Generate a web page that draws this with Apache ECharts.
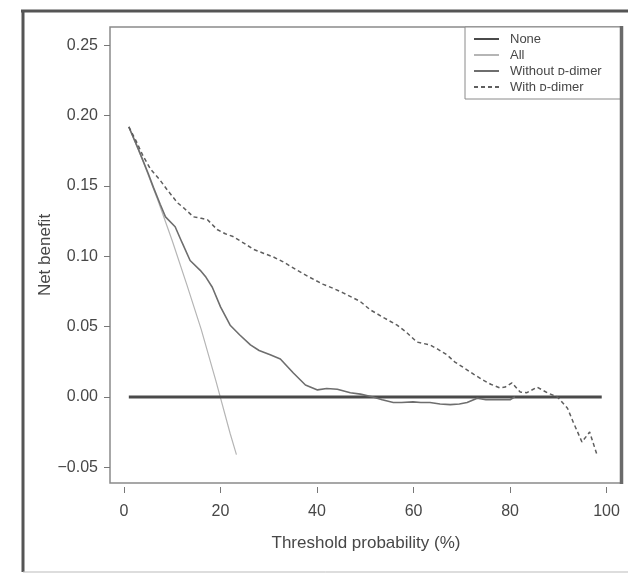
<!DOCTYPE html>
<html>
<head>
<meta charset="utf-8">
<script src="https://cdn.jsdelivr.net/npm/echarts@6/dist/echarts.min.js"></script>
<style>
html,body{margin:0;padding:0;background:#fff;}
#chart{width:628px;height:573px;}
</style>
</head>
<body>
<div id="chart"></div>
<script>
// ---- data ----
var seriesNames = ['None', 'All', 'Without \u1D05-dimer', 'With \u1D05-dimer'];
var xTicks = [0, 20, 40, 60, 80, 100];
var yTicks = [-0.05, 0, 0.05, 0.10, 0.15, 0.20, 0.25];

var noneX = [1, 99];
var noneY = [0, 0];

var allX = [1, 4, 7, 10, 13, 16, 19, 22, 23.3];
var allY = [0.192, 0.167, 0.140, 0.111, 0.080, 0.048, 0.012, -0.026, -0.041];

var withoutX = [1, 3, 5, 6.1, 7.5, 8.6, 10.6, 12, 13.7, 15.8, 17, 18.3, 20, 22, 24, 26.2, 28, 30.3, 32.4, 35.1, 37.6, 40.1, 42, 44.2, 46.9, 49, 51.6, 53.5, 55.8, 57.5, 59.9, 61.5, 63.4, 65.5, 67.6, 69.5, 71.1, 73.2, 75, 77, 80, 81];
var withoutY = [0.192, 0.176, 0.159, 0.149, 0.137, 0.128, 0.121, 0.110, 0.097, 0.090, 0.085, 0.078, 0.064, 0.051, 0.044, 0.037, 0.033, 0.030, 0.027, 0.017, 0.0085, 0.005, 0.006, 0.0055, 0.003, 0.002, 0.000, -0.002, -0.004, -0.004, -0.0035, -0.004, -0.004, -0.005, -0.0055, -0.005, -0.004, -0.001, -0.002, -0.002, -0.002, 0.000];

var withX = [1, 2.5, 4, 5.5, 7.5, 9, 11.1, 12.5, 14.4, 16, 17.3, 19.3, 21, 22.6, 25, 26.8, 29, 30.9, 33, 35.9, 38.5, 41.3, 43.5, 45.4, 48.9, 51, 54, 56.6, 58.5, 60.7, 63.4, 65, 66.9, 68.5, 70.3, 72.5, 74.4, 76, 77.9, 79, 80.4, 82.1, 83.5, 85.6, 87.7, 89.8, 91.9, 93.1, 94.9, 96.5, 98];
var withY = [0.192, 0.182, 0.171, 0.162, 0.154, 0.147, 0.138, 0.134, 0.128, 0.127, 0.126, 0.119, 0.116, 0.114, 0.109, 0.105, 0.102, 0.0996, 0.096, 0.090, 0.085, 0.080, 0.077, 0.074, 0.068, 0.062, 0.056, 0.051, 0.046, 0.039, 0.037, 0.034, 0.030, 0.025, 0.021, 0.016, 0.012, 0.009, 0.0064, 0.007, 0.010, 0.0035, 0.003, 0.007, 0.003, 0.000, -0.008, -0.018, -0.032, -0.025, -0.041];

function pairs(xs, ys) {
  var out = [];
  for (var i = 0; i < xs.length; i++) out.push([xs[i], ys[i]]);
  return out;
}

var FONT = '"Liberation Sans", Arial, Helvetica, sans-serif';
var TXT = '#474747';

var chart = echarts.init(document.getElementById('chart'), null, {renderer: 'canvas'});

var option = {
  backgroundColor: '#fff',
  animation: false,
  grid: {
    left: 110, right: 6, top: 27, bottom: 90,
    show: true, borderColor: '#8a8a8a', borderWidth: 1.5, backgroundColor: 'transparent'
  },
  legend: {
    orient: 'vertical',
    left: 465, top: 27,
    padding: [5, 19, 5, 8],
    itemWidth: 25, itemHeight: 14, itemGap: 2,
    borderColor: '#8a8a8a', borderWidth: 1, borderRadius: 0,
    backgroundColor: '#fff',
    itemStyle: {opacity: 0},
    textStyle: {fontFamily: FONT, fontSize: 13, color: TXT, padding: [0, 0, 0, 6], lineHeight: 14},
    data: seriesNames
  },
  xAxis: {
    type: 'value', min: -2.9, max: 103.2, offset: 4,
    name: 'Threshold probability (%)', nameLocation: 'middle', nameGap: 48, nameMoveOverlap: false,
    nameTextStyle: {fontFamily: FONT, fontSize: 17, color: TXT},
    axisLine: {show: false, onZero: false},
    axisTick: {show: true, inside: false, length: 6, lineStyle: {color: '#777', width: 1}, customValues: xTicks},
    axisLabel: {fontFamily: FONT, fontSize: 16, color: TXT, margin: 17, customValues: xTicks},
    splitLine: {show: false}
  },
  yAxis: {
    type: 'value', min: -0.0612, max: 0.263,
    name: 'Net benefit', nameLocation: 'middle', nameGap: 56, nameMoveOverlap: false,
    nameTextStyle: {fontFamily: FONT, fontSize: 17, color: TXT},
    axisLine: {show: false, onZero: false},
    axisTick: {show: true, inside: false, length: 6, lineStyle: {color: '#777', width: 1}, customValues: yTicks},
    axisLabel: {
      fontFamily: FONT, fontSize: 16, color: TXT, margin: 12, customValues: yTicks,
      formatter: function (v) { return v.toFixed(2).replace('-', '\u2212'); }
    },
    splitLine: {show: false}
  },
  graphic: [
    {type: 'line', silent: true, z: 100, shape: {x1: 21, y1: 11, x2: 628, y2: 11}, style: {stroke: '#555', lineWidth: 3}},
    {type: 'line', silent: true, z: 100, shape: {x1: 23, y1: 10, x2: 23, y2: 572}, style: {stroke: '#555', lineWidth: 3}},
    {type: 'line', silent: true, z: 100, shape: {x1: 23, y1: 572, x2: 628, y2: 572}, style: {stroke: '#bbb', lineWidth: 1}},
    {type: 'line', silent: true, z: 100, shape: {x1: 621.5, y1: 26, x2: 621.5, y2: 484}, style: {stroke: '#6a6a6a', lineWidth: 3.5}}
  ],
  series: [
    {
      name: seriesNames[0], type: 'line', data: pairs(noneX, noneY), symbol: 'none',
      lineStyle: {color: '#4a4a4a', width: 3}, itemStyle: {color: '#4a4a4a'}, z: 3
    },
    {
      name: seriesNames[1], type: 'line', data: pairs(allX, allY), symbol: 'none',
      lineStyle: {color: '#b5b5b5', width: 1.2}, itemStyle: {color: '#b5b5b5'}, z: 2
    },
    {
      name: seriesNames[2], type: 'line', data: pairs(withoutX, withoutY), symbol: 'none',
      lineStyle: {color: '#6e6e6e', width: 1.6}, itemStyle: {color: '#6e6e6e'}, z: 4
    },
    {
      name: seriesNames[3], type: 'line', data: pairs(withX, withY), symbol: 'none',
      lineStyle: {color: '#5e5e5e', width: 1.5, type: [4, 3]}, itemStyle: {color: '#5e5e5e'}, z: 5
    }
  ]
};
chart.setOption(option);
</script>
</body>
</html>
